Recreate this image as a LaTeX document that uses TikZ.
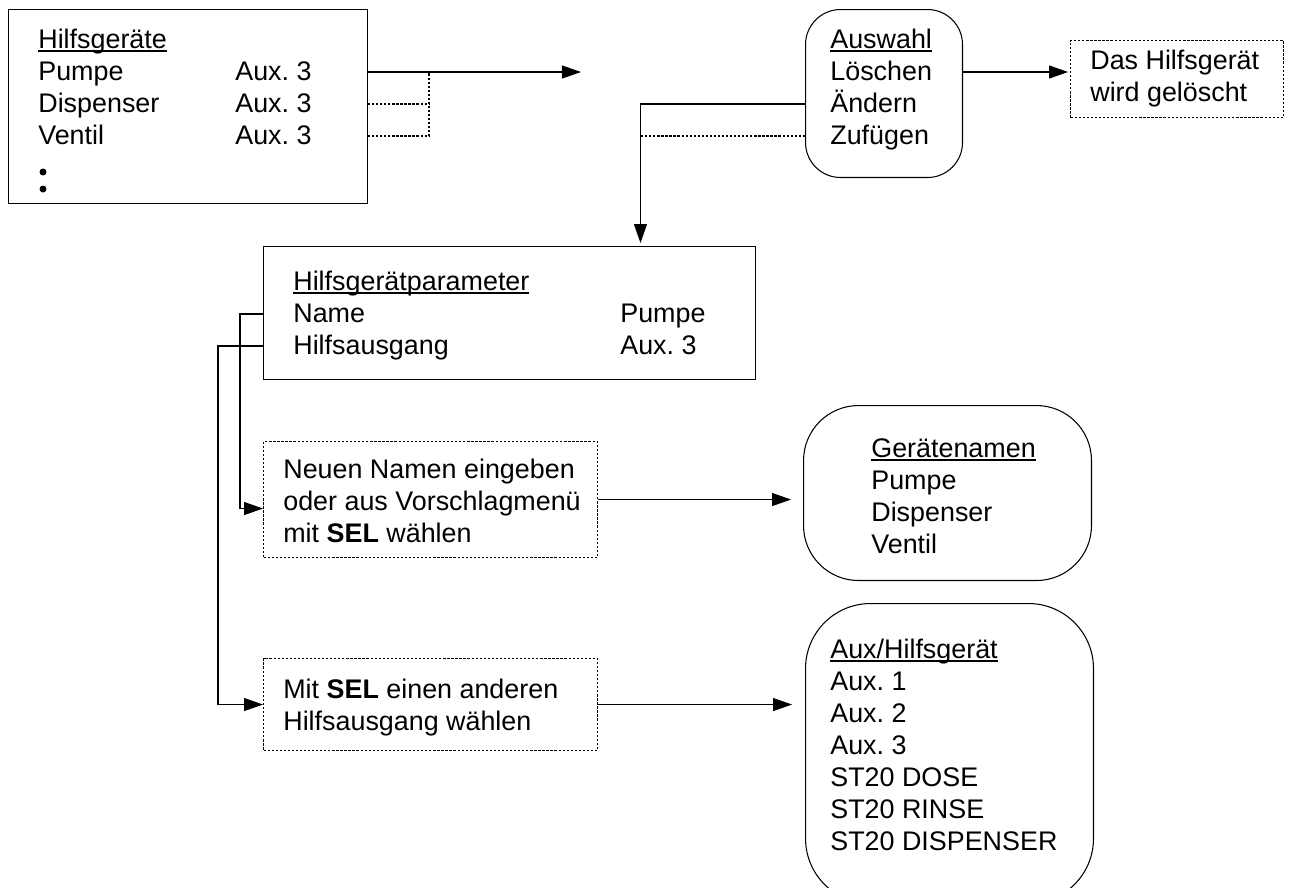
\documentclass[tikz,border=0pt]{standalone}
\usepackage{fontspec}
\setmainfont{Liberation Sans}
\usetikzlibrary{arrows.meta, positioning, calc}
\frenchspacing
\newcommand{\hdul}[1]{\setbox0\hbox{#1}\rlap{\rule[-2pt]{\wd0}{0.6pt}}\box0}
\tikzset{
  listbox/.style={rectangle, draw, line width=0.6pt, inner sep=0pt, anchor=north west},
  menubox/.style={listbox, rounded corners=0.7cm},
  hintbox/.style={listbox, dash pattern=on 1.3pt off 1pt},
  entry/.style={anchor=west, inner sep=0pt, text height=0.42cm, text depth=0.1cm,
                font=\fontsize{15.3}{18.2}\selectfont},
  link/.style={-{Triangle[length=3.8mm,width=2.6mm]}, line width=0.6pt},
  dotlink/.style={line width=0.6pt, dash pattern=on 1.3pt off 1pt},
}

\begin{document}
\begin{tikzpicture}[x=0.02cm, y=-0.02cm]
  \useasboundingbox (0,0) rectangle (1293,887);

  % Device list top left
  \node[listbox, minimum width=7.18cm, minimum height=3.88cm] (hg) at (8,9) {};
  \node[entry] (hg-head)  at (38,40)  {\hdul{Hilfsgeräte}};
  \node[entry] (hg-pumpe) at (38,72)  {Pumpe};
  \node[entry] (hg-disp)  at (38,104) {Dispenser};
  \node[entry] (hg-vent)  at (38,136) {Ventil};
  \node[entry] (hg-a1)    at (235,72)  {Aux. 3};
  \node[entry] (hg-a2)    at (235,104) {Aux. 3};
  \node[entry] (hg-a3)    at (235,136) {Aux. 3};
  \fill ([shift={(5,36)}]hg-vent.west) circle (0.07cm)
        ([shift={(5,53)}]hg-vent.west) circle (0.07cm);

  % Selection menu and delete note
  \node[menubox, minimum width=3.14cm, minimum height=3.36cm] (sel) at (805,9) {};
  \node[entry] (sel-head) at (830,40)  {\hdul{Auswahl}};
  \node[entry] (sel-del)  at (830,72)  {Löschen};
  \node[entry] (sel-chg)  at (830,104) {Ändern};
  \node[entry] (sel-add)  at (830,136) {Zufügen};

  \node[hintbox, minimum width=4.26cm, minimum height=1.54cm] (del) at (1070,40) {};
  \node[entry] (del-1) at (1090,61) {Das Hilfsgerät};
  \node[entry] (del-2) at (1090,93) {wird gelöscht};

  % Parameter box
  \node[listbox, minimum width=9.84cm, minimum height=2.66cm] (par) at (263,246) {};
  \node[entry] (par-head) at (293,282) {\hdul{Hilfsgerätparameter}};
  \node[entry] (par-name) at (293,314) {Name};
  \node[entry] (par-out)  at (293,346) {Hilfsausgang};
  \node[entry] (par-v1)   at (620,314) {Pumpe};
  \node[entry] (par-v2)   at (620,346) {Aux. 3};

  % Hints and pick lists
  \node[hintbox, minimum width=6.68cm, minimum height=2.32cm] (nam) at (263,441) {};
  \node[entry] (nam-1) at (283,470) {Neuen Namen eingeben};
  \node[entry] (nam-2) at (283,502) {oder aus Vorschlagmenü};
  \node[entry] (nam-3) at (283,534) {mit \textbf{SEL} wählen};

  \node[hintbox, minimum width=6.68cm, minimum height=1.84cm] (aux) at (263,658) {};
  \node[entry] (aux-1) at (283,690) {Mit \textbf{SEL} einen anderen};
  \node[entry] (aux-2) at (283,722) {Hilfsausgang wählen};

  \node[menubox, rounded corners=1.1cm, minimum width=5.76cm, minimum height=3.5cm] (gn) at (803,405) {};
  \node[entry] (gn-head) at (871,449) {\hdul{Gerätenamen}};
  \node[entry] (gn-1)    at (871,481) {Pumpe};
  \node[entry] (gn-2)    at (871,513) {Dispenser};
  \node[entry] (gn-3)    at (871,545) {Ventil};

  \node[menubox, rounded corners=1.3cm, minimum width=5.76cm, minimum height=6cm] (al) at (805,603) {};
  \node[entry] (al-head) at (830,650) {\hdul{Aux/Hilfsgerät}};
  \node[entry] (al-1)    at (830,682) {Aux. 1};
  \node[entry] (al-2)    at (830,714) {Aux. 2};
  \node[entry] (al-3)    at (830,746) {Aux. 3};
  \node[entry] (al-4)    at (830,778) {ST20 DOSE};
  \node[entry] (al-5)    at (830,810) {ST20 RINSE};
  \node[entry] (al-6)    at (830,842) {ST20 DISPENSER};

  % Links
  \coordinate (pick)    at ($(hg.east |- hg-pumpe)+(213,0)$);
  \coordinate (hg-join) at ($(hg.east |- hg-pumpe)+(61,0)$);
  \draw[link] (hg.east |- hg-pumpe) -- (pick);
  \draw[dotlink] (hg.east |- hg-disp) -- (hg-join |- hg-disp);
  \draw[dotlink] (hg.east |- hg-vent) -| (hg-join);

  \draw[link, shorten >=0.04cm] (sel.east |- sel-del) -- (del.west |- sel-del);
  \coordinate (sel-drop) at ($(par.north)+(131,0)$);
  \draw[link, shorten >=0.06cm] (sel.west |- sel-chg) -| (sel-drop);
  \draw[dotlink] (sel.west |- sel-add) -- (sel-drop |- sel-add);

  \draw[link] (par.west |- par-name) -- ++(-23,0) |- ([yshift=-0.18cm]nam.west);
  \draw[link] (par.west |- par-out) -- ++(-45,0) |- (aux.west);

  \draw[link, shorten >=0.24cm] (nam.east) -- (gn.west |- nam.east);
  \draw[link, shorten >=0.26cm] (aux.east) -- (al.west |- aux.east);
\end{tikzpicture}
\end{document}
